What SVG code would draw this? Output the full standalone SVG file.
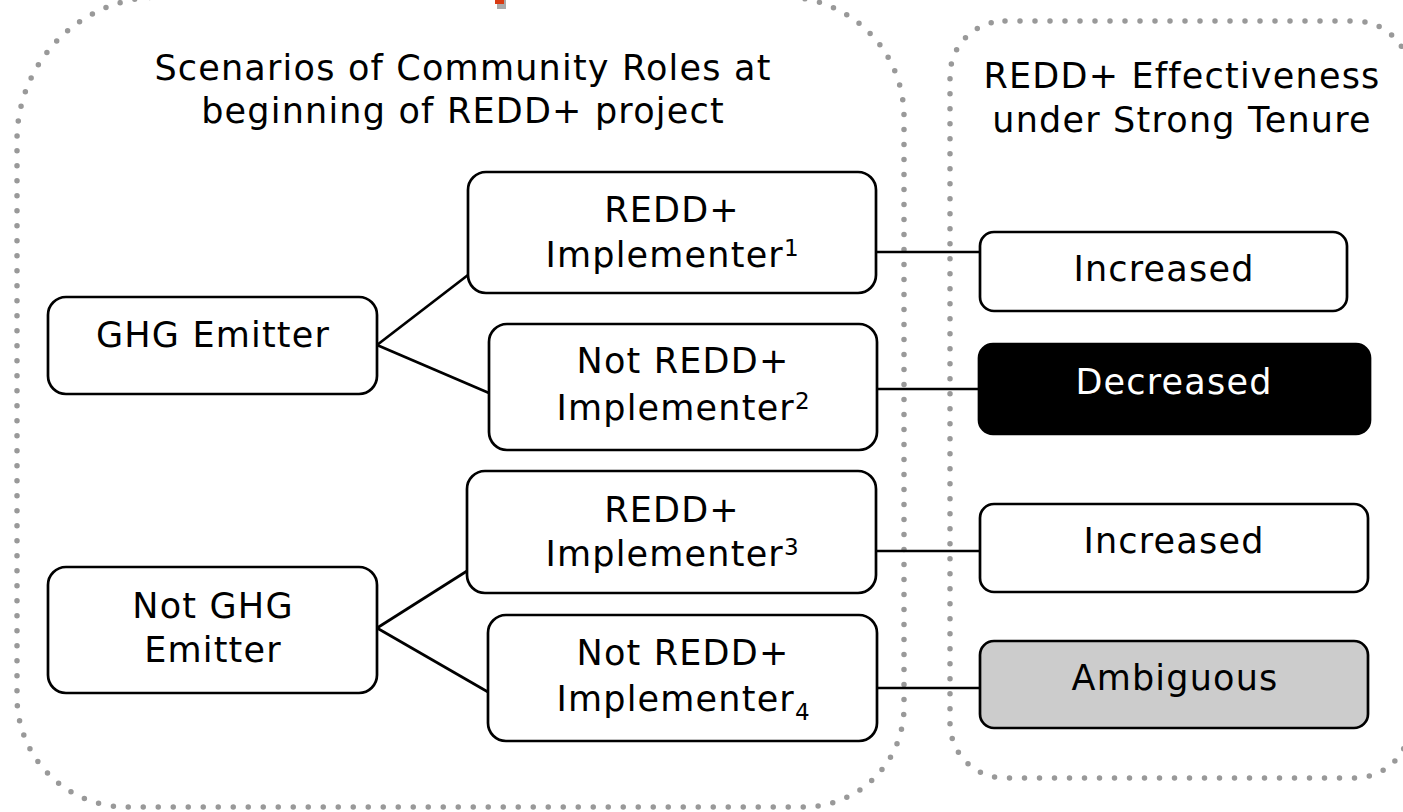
<svg xmlns="http://www.w3.org/2000/svg" width="1403" height="812" viewBox="0 0 1403 812">
<style>
.dots{fill:none;stroke:#999;stroke-width:5.5;stroke-dasharray:0 15;stroke-linecap:round}
.box{fill:#fff;stroke:#000;stroke-width:2.7}
.t{font-family:"DejaVu Sans","Verdana",sans-serif;font-size:35px;letter-spacing:1.2px;fill:#000;text-anchor:middle}
.sup{font-size:23px;letter-spacing:0}
.conn line{stroke:#000;stroke-width:2.7}
</style>
<rect width="1403" height="812" fill="#fff"/>
<g id="red-mark">
<rect x="497" y="-4" width="9" height="13" fill="#555" opacity="0.5"/>
<rect x="495" y="-6" width="9" height="10" fill="#d93a12"/>
</g>
<g id="container-left">
<path class="dots" d="M160,-3 H784 A120 120 0 0 1 904,117 V707 A100 100 0 0 1 804,807 H127 A110 110 0 0 1 17,697 V140 A143 143 0 0 1 160,-3 Z"/>
<text class="t" x="463" y="80">Scenarios of Community Roles at</text>
<text class="t" x="463" y="123">beginning of REDD+ project</text>
</g>
<g id="container-right">
<rect class="dots" x="950" y="21" width="460" height="757" rx="55"/>
<text class="t" x="1182" y="88">REDD+ Effectiveness</text>
<text class="t" x="1182" y="132">under Strong Tenure</text>
</g>
<g id="connectors" class="conn">
<line x1="377" y1="345" x2="468" y2="275"/>
<line x1="377" y1="345" x2="489" y2="393"/>
<line x1="377" y1="628" x2="467" y2="571"/>
<line x1="377" y1="628" x2="488" y2="692"/>
<line x1="876" y1="252" x2="980" y2="252"/>
<line x1="877" y1="389" x2="979" y2="389"/>
<line x1="876" y1="551" x2="980" y2="551"/>
<line x1="877" y1="688" x2="980" y2="688"/>
</g>
<g id="ghg-emitter">
<rect class="box" x="48" y="297" width="329" height="97" rx="18"/>
<text class="t" x="213" y="347">GHG Emitter</text>
</g>
<g id="not-ghg-emitter">
<rect class="box" x="48" y="567" width="329" height="126" rx="18"/>
<text class="t" x="213" y="618">Not GHG</text>
<text class="t" x="213" y="662">Emitter</text>
</g>
<g id="redd-implementer-1">
<rect class="box" x="468" y="172" width="408" height="121" rx="18"/>
<text class="t" x="672" y="222">REDD+</text>
<text class="t" x="672" y="267">Implementer<tspan class="sup" dy="-11">1</tspan></text>
</g>
<g id="not-redd-implementer-2">
<rect class="box" x="489" y="324" width="388" height="126" rx="18"/>
<text class="t" x="683" y="373">Not REDD+</text>
<text class="t" x="683" y="420">Implementer<tspan class="sup" dy="-11">2</tspan></text>
</g>
<g id="redd-implementer-3">
<rect class="box" x="467" y="471" width="409" height="122" rx="18"/>
<text class="t" x="672" y="522">REDD+</text>
<text class="t" x="672" y="566">Implementer<tspan class="sup" dy="-11">3</tspan></text>
</g>
<g id="not-redd-implementer-4">
<rect class="box" x="488" y="615" width="389" height="126" rx="18"/>
<text class="t" x="683" y="665">Not REDD+</text>
<text class="t" x="683" y="711">Implementer<tspan class="sup" font-size="25" dy="9">4</tspan></text>
</g>
<g id="increased-1">
<rect class="box" x="980" y="232" width="367" height="79" rx="14"/>
<text class="t" x="1164" y="281">Increased</text>
</g>
<g id="decreased">
<rect x="979" y="344" width="391" height="90" rx="14" fill="#000" stroke="#000" stroke-width="2.7"/>
<text class="t" x="1174" y="394" style="fill:#fff">Decreased</text>
</g>
<g id="increased-2">
<rect class="box" x="980" y="504" width="388" height="88" rx="14"/>
<text class="t" x="1174" y="553">Increased</text>
</g>
<g id="ambiguous">
<rect class="box" x="980" y="641" width="388" height="87" rx="14" style="fill:#ccc"/>
<text class="t" x="1175" y="690">Ambiguous</text>
</g>
</svg>
